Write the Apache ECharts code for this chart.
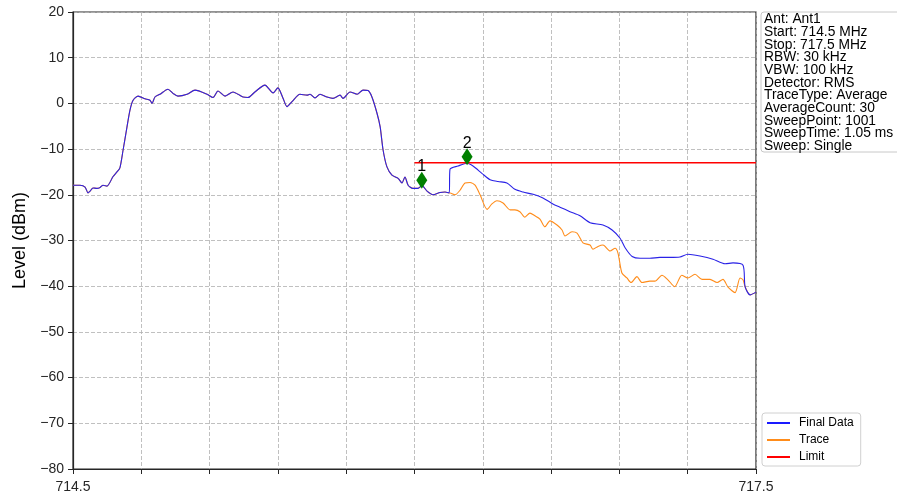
<!DOCTYPE html>
<html><head><meta charset="utf-8">
<script src="https://cdn.jsdelivr.net/npm/echarts@6/dist/echarts.min.js"></script>
<style>html,body{margin:0;padding:0;background:#fff}#c{width:897px;height:499px}</style>
</head><body><div id="c"></div>
<script>
// Axis range (MHz) and labels
const startMHz = 714.5, stopMHz = 717.5;
const xTickLabels = ['714.5', '717.5'];
const yMin = -80, yMax = 20, yStep = 10;

// Final Data (blue)
const finalFreq = [714.500,714.531,714.553,714.566,714.575,714.588,714.605,714.619,714.632,714.649,714.676,714.693,714.706,714.720,714.737,714.750,714.764,714.786,714.816,714.838,714.847,714.860,714.882,714.917,714.939,714.961,715.001,715.036,715.089,715.115,715.137,715.168,715.203,715.225,715.247,715.269,715.299,715.343,715.379,715.400,715.422,715.440,715.462,715.497,715.528,715.541,715.563,715.585,715.616,715.642,715.673,715.686,715.717,715.748,715.774,715.796,715.813,715.835,715.849,715.862,715.879,715.901,715.928,715.945,715.958,715.972,715.993,716.015,716.033,716.055,716.081,716.112,716.134,716.152,716.156,716.191,716.231,716.257,716.296,716.332,716.367,716.406,716.441,716.477,716.521,716.564,716.608,716.639,716.683,716.727,716.771,716.828,716.868,716.903,716.925,716.956,716.991,717.034,717.078,717.122,717.166,717.201,717.254,717.311,717.364,717.399,717.443,717.452,717.474,717.500];
const finalLevel = [-17.9,-17.9,-18.3,-19.6,-19.2,-18.5,-18.6,-18.4,-17.9,-18.1,-16.0,-15.0,-14.1,-10.2,-5.2,-1.5,0.7,1.6,1.0,0.7,0.0,1.4,2.0,3.1,2.2,1.6,2.0,2.9,2.0,1.3,2.7,1.6,2.5,2.0,1.4,1.3,2.5,4.0,2.3,3.4,1.2,-0.7,0.4,2.0,1.8,2.0,1.2,2.0,1.4,1.1,1.8,1.1,2.5,2.0,2.9,2.8,1.4,-2.1,-5.1,-10.2,-13.9,-15.7,-16.4,-17.4,-16.1,-17.9,-18.6,-18.6,-18.0,-19.2,-20.0,-19.5,-19.4,-19.6,-14.4,-13.7,-13.1,-13.7,-15.3,-16.7,-17.1,-17.4,-18.8,-19.4,-19.9,-20.7,-22.0,-22.7,-23.7,-24.6,-26.1,-26.6,-27.7,-29.5,-31.6,-33.5,-33.9,-33.9,-33.7,-33.7,-33.6,-33.0,-33.4,-34.1,-35.1,-34.9,-35.4,-40.1,-41.9,-41.3];

// Trace (orange) where it differs from Final Data; elsewhere it lies under the blue curve
const traceFreqMid = [716.156,716.178,716.200,716.222,716.244,716.266,716.288,716.319,716.340,716.362,716.389,716.420,716.441,716.463,716.485,716.507,716.529,716.551,716.573,716.595,716.626,716.648,716.661,716.692,716.714,716.740,716.771,716.784,716.806,716.828,716.859,716.881,716.894,716.911,716.933,716.951,716.977,716.999,717.034,717.056,717.087,717.113,717.143,717.174,717.201,717.232,717.263,717.298,717.329,717.355,717.377,717.408,717.430,717.443];
const traceLevelMid = [-19.6,-20.0,-19.0,-17.4,-17.3,-17.9,-20.0,-23.2,-22.0,-21.3,-21.8,-23.3,-23.3,-23.7,-24.9,-24.0,-24.6,-25.3,-27.0,-25.7,-26.6,-27.7,-29.0,-28.1,-28.4,-30.5,-31.0,-31.9,-31.3,-31.0,-32.3,-31.7,-32.8,-37.1,-38.2,-39.2,-37.9,-39.2,-38.9,-38.9,-37.6,-38.6,-40.1,-37.6,-38.2,-37.4,-38.5,-38.5,-39.2,-38.5,-40.2,-41.4,-38.2,-38.6];

// Limit
const limitFreq = [716.0, 717.5];
const limitLevel = [-13, -13];

// Markers
const markerNames = ['1', '2'];
const markerFreq = [716.032, 716.231];
const markerLevel = [-16.8, -11.7];

// Info box
const infoLines = ['Ant: Ant1','Start: 714.5 MHz','Stop: 717.5 MHz','RBW: 30 kHz','VBW: 100 kHz','Detector: RMS','TraceType: Average','AverageCount: 30','SweepPoint: 1001','SweepTime: 1.05 ms','Sweep: Single'];

const FONT = 'Liberation Sans, Arial, sans-serif';
const off = f => +(f - startMHz).toFixed(4);
const span = +(stopMHz - startMHz).toFixed(4);
const minus = s => String(s).replace('-', '\u2212');

const finalData = finalFreq.map((f, i) => [off(f), finalLevel[i]]);
const tStart = traceFreqMid[0], tEnd = traceFreqMid[traceFreqMid.length - 1];
const traceData = []
  .concat(finalFreq.map((f, i) => [f, finalLevel[i]]).filter(p => p[0] < tStart))
  .concat(traceFreqMid.map((f, i) => [f, traceLevelMid[i]]))
  .concat(finalFreq.map((f, i) => [f, finalLevel[i]]).filter(p => p[0] > tEnd))
  .map(p => [off(p[0]), p[1]]);
const limitData = limitFreq.map((f, i) => [off(f), limitLevel[i]]);
const markerData = markerFreq.map((f, i) => ({ name: markerNames[i], value: [off(f), markerLevel[i]] }));

const chart = echarts.init(document.getElementById('c'), null, { renderer: 'canvas' });
const axisColor = '#262626';
chart.setOption({
  animation: false,
  backgroundColor: '#fff',
  grid: { left: 73, right: 141, top: 12, bottom: 30, show: true, borderColor: axisColor, borderWidth: 1.2, backgroundColor: 'transparent' },
  xAxis: {
    type: 'value', min: 0, max: span, interval: 0.3,
    axisLine: { show: true, onZero: false, lineStyle: { color: axisColor, width: 1.2 } },
    axisTick: { show: true, length: 5, inside: false, lineStyle: { color: axisColor, width: 1 } },
    axisLabel: {
      fontSize: 14, color: axisColor, fontFamily: FONT, margin: 11, showMinLabel: true, showMaxLabel: true,
      formatter: v => Math.abs(v) < 1e-6 ? xTickLabels[0] : (Math.abs(v - span) < 1e-6 ? xTickLabels[1] : '')
    },
    splitLine: { show: true, lineStyle: { color: '#b0b0b0', width: 0.8, type: [4, 2] } }
  },
  yAxis: {
    type: 'value', min: yMin, max: yMax, interval: yStep,
    name: 'Level (dBm)', nameLocation: 'middle', nameGap: 44,
    nameTextStyle: { fontSize: 18, color: '#000', fontFamily: FONT },
    axisLine: { show: true, onZero: false, lineStyle: { color: axisColor, width: 1.2 } },
    axisTick: { show: true, length: 5, lineStyle: { color: axisColor, width: 1 } },
    axisLabel: { fontSize: 14, color: axisColor, fontFamily: FONT, margin: 9, formatter: v => minus(v) },
    splitLine: { show: true, lineStyle: { color: '#b0b0b0', width: 0.8, type: [4, 2] } }
  },
  legend: {
    data: ['Final Data', 'Trace', 'Limit'],
    orient: 'vertical', left: 762, top: 413,
    icon: 'rect', itemWidth: 23, itemHeight: 2, itemGap: 5,
    padding: [4, 7, 3, 5],
    backgroundColor: '#fff', borderColor: '#d0d0d0', borderWidth: 1, borderRadius: 3,
    textStyle: { fontSize: 12, color: '#000', fontFamily: FONT, padding: [0, 0, 0, 4] }
  },
  graphic: [
    { type: 'rect', shape: { x: 761, y: 12, width: 140, height: 140, r: 3 }, style: { fill: '#fff', stroke: '#c8c8c8', lineWidth: 1 }, z: 10 },
    { type: 'text', x: 764, y: 13, style: { text: infoLines.join('\n'), font: '13.8px ' + FONT, fill: '#000', lineHeight: 12.7 }, z: 11 }
  ],
  series: [
    { name: 'Trace', type: 'line', data: traceData, smooth: 0.25, showSymbol: false, symbol: 'none', lineStyle: { color: '#ff8c1a', width: 1.1 }, itemStyle: { color: '#ff8c1a' }, z: 2 },
    { name: 'Final Data', type: 'line', data: finalData, smooth: 0.25, showSymbol: false, symbol: 'none', lineStyle: { color: '#2a22e6', width: 1.1 }, itemStyle: { color: '#1a1aff' }, z: 3 },
    { name: 'Limit', type: 'line', data: limitData, showSymbol: false, symbol: 'none', lineStyle: { color: '#ff0000', width: 1.5 }, itemStyle: { color: '#ff0000' }, z: 4 },
    { name: 'Markers', type: 'scatter', data: markerData, symbol: 'diamond', symbolSize: [11, 17], itemStyle: { color: '#008000', opacity: 1 }, z: 5,
      label: { show: true, position: 'top', distance: 0, offset: [0, 3], formatter: p => p.name, fontSize: 16, color: '#000', fontFamily: FONT } }
  ]
});
</script></body></html>
